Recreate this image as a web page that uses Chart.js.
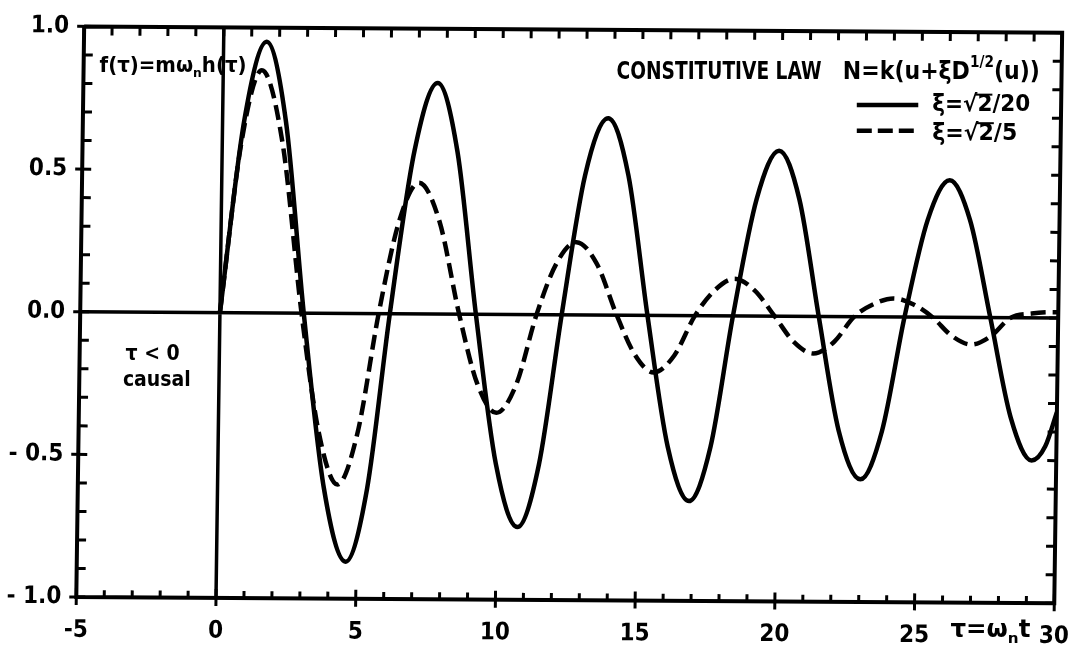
<!DOCTYPE html>
<html lang="en">
<head>
  <meta charset="UTF-8">
  <title>Impulse response - constitutive law</title>
  <style>
    body {
      margin: 0;
      padding: 0;
      background-color: #ffffff;
      overflow: hidden;
    }
    #chart {
      display: block;
    }
  </style>
</head>
<body>
  <canvas id="chart" width="1092" height="662"></canvas>

  <script src="https://cdn.jsdelivr.net/npm/chart.js"></script>
  <script>
    // values
    const tauSolid = [0, 0.77, 1.54, 2.27, 3.0, 3.81, 4.62, 5.35, 6.08, 6.88, 7.68, 8.42, 9.16,
      9.95, 10.75, 11.49, 12.23, 13.0, 13.8, 14.55, 15.3, 16.09, 16.88, 17.62, 18.36,
      19.15, 19.93, 20.68, 21.43, 22.2, 23.0, 23.75, 24.5, 25.28, 26.05, 26.8, 27.57,
      28.35, 29.12, 29.6, 30];
    const hSolid = [0, 0.67, 0.95, 0.67, 0, -0.615, -0.87, -0.615, 0, 0.57, 0.81, 0.57, 0,
      -0.525, -0.745, -0.525, 0, 0.49, 0.69, 0.49, 0, -0.46, -0.65, -0.46, 0,
      0.41, 0.58, 0.41, 0, -0.40, -0.57, -0.40, 0, 0.34, 0.48, 0.34, 0,
      -0.35, -0.50, -0.45, -0.33];

    const tauDashed = [0, 0.69, 1.38, 2.15, 2.92, 3.6, 4.29, 4.98, 5.68, 6.37, 7.06, 7.81, 8.56,
      9.25, 9.94, 10.64, 11.33, 12.02, 12.72, 13.46, 14.2, 14.88, 15.55, 16.28, 17.0,
      17.7, 18.4, 19.12, 19.85, 20.55, 21.25, 21.98, 22.7, 23.4, 24.1, 24.8, 25.5,
      26.2, 26.9, 27.6, 28.3, 29.05, 29.8, 30];
    const hDashed = [0, 0.6, 0.85, 0.6, 0, -0.42, -0.60, -0.42, 0, 0.325, 0.46, 0.325, 0,
      -0.245, -0.345, -0.245, 0, 0.18, 0.255, 0.18, 0, -0.14, -0.20, -0.14, 0,
      0.09, 0.13, 0.09, 0, -0.09, -0.13, -0.09, 0, 0.045, 0.065, 0.045, 0,
      -0.065, -0.095, -0.065, 0, 0.015, 0.02, 0.02];

    const xRange = [-5, 30];
    const yRange = [-1, 1];
    const yTickLabels = { '1': '1.0', '0.5': '0.5', '0': '0.0', '-0.5': '- 0.5', '-1': '- 1.0' };

    const FONT = "'DejaVu Sans Condensed', 'DejaVu Sans', sans-serif";

    function toPoints(xs, ys) {
      return xs.map((x, i) => ({ x: x, y: ys[i] }));
    }

    // draws a list of text runs (sub/superscript, overline) squeezed to a target width
    function drawRuns(ctx, runs, x, y, size, width) {
      ctx.save();
      let total = 0;
      runs.forEach(r => {
        ctx.font = 'bold ' + (r.sub || r.sup ? size * 0.62 : size) + 'px ' + FONT;
        r.w = ctx.measureText(r.t).width;
        total += r.w;
      });
      const sx = width ? width / total : 1;
      ctx.translate(x, y);
      ctx.scale(sx, 1);
      ctx.textBaseline = 'middle';
      ctx.fillStyle = '#000';
      ctx.strokeStyle = '#000';
      let cx = 0;
      runs.forEach(r => {
        const s = r.sub || r.sup ? size * 0.62 : size;
        const dy = r.sub ? size * 0.35 : (r.sup ? -size * 0.38 : 0);
        ctx.font = 'bold ' + s + 'px ' + FONT;
        ctx.fillText(r.t, cx, dy);
        if (r.over) {
          ctx.lineWidth = 2;
          ctx.beginPath();
          ctx.moveTo(cx - 2, dy - s * 0.45);
          ctx.lineTo(cx + r.w, dy - s * 0.45);
          ctx.stroke();
        }
        cx += r.w;
      });
      ctx.restore();
    }

    // the scanned figure is slightly skewed: apply the same shear to everything drawn
    const skewPlugin = {
      id: 'skew',
      beforeDraw(chart) {
        const ctx = chart.ctx;
        ctx.save();
        ctx.translate(546, 331);
        ctx.transform(1, 0.0064, -0.0138, 1, 0, 0);
        ctx.translate(-546, -331);
      },
      afterDraw(chart) {
        chart.ctx.restore();
      }
    };

    // frame, inward ticks, zero lines and annotations
    const framePlugin = {
      id: 'frame',
      beforeDatasetsDraw(chart) {
        const { ctx, chartArea: a, scales: { x, y } } = chart;
        ctx.save();
        ctx.strokeStyle = '#000';
        ctx.lineCap = 'butt';

        // zero lines
        ctx.lineWidth = 3.5;
        ctx.beginPath();
        ctx.moveTo(a.left, y.getPixelForValue(0));
        ctx.lineTo(a.right, y.getPixelForValue(0));
        ctx.moveTo(x.getPixelForValue(0), a.top);
        ctx.lineTo(x.getPixelForValue(0), a.bottom);
        ctx.stroke();

        // frame
        ctx.lineWidth = 4;
        ctx.beginPath();
        ctx.moveTo(a.left, a.top);
        ctx.lineTo(a.left, a.bottom);
        ctx.lineTo(a.right, a.bottom);
        ctx.lineTo(a.right, a.top);
        ctx.lineTo(a.left, a.top);
        ctx.stroke();

        // x ticks every unit
        ctx.lineWidth = 3;
        ctx.beginPath();
        for (let v = xRange[0]; v <= xRange[1]; v++) {
          const px = x.getPixelForValue(v);
          const major = v % 5 === 0;
          ctx.moveTo(px, a.bottom + (major ? 8 : 0));
          ctx.lineTo(px, a.bottom - (major ? 9 : 7));
          ctx.moveTo(px, a.top);
          ctx.lineTo(px, a.top + 9);
        }
        // y ticks every 0.1
        for (let k = -10; k <= 10; k++) {
          const py = y.getPixelForValue(k / 10);
          const major = k % 5 === 0;
          ctx.moveTo(a.left - (major ? 7 : 0), py);
          ctx.lineTo(a.left + 9, py);
          ctx.moveTo(a.right, py);
          ctx.lineTo(a.right - 9, py);
        }
        ctx.stroke();
        ctx.restore();
      },
      afterDraw(chart) {
        const { ctx, scales: { x, y } } = chart;
        const fx = v => x.getPixelForValue(v);
        const fy = v => y.getPixelForValue(v);

        drawRuns(ctx, [{ t: 'f(τ)=mω' }, { t: 'n', sub: true }, { t: 'h(τ)' }],
          fx(-4.3), fy(0.87), 21, 147);

        drawRuns(ctx, [{ t: 'CONSTITUTIVE LAW' }], fx(14.2), fy(0.85), 25, 205);
        drawRuns(ctx, [{ t: 'N=k(u+ξD' }, { t: '1/2', sup: true }, { t: '(u))' }],
          fx(22.3), fy(0.85), 25, 197);

        // legend samples
        ctx.save();
        ctx.strokeStyle = '#000';
        ctx.lineWidth = 4.5;
        ctx.beginPath();
        ctx.moveTo(fx(22.8), fy(0.735));
        ctx.lineTo(fx(25.0), fy(0.735));
        ctx.stroke();
        ctx.setLineDash([15, 6]);
        ctx.beginPath();
        ctx.moveTo(fx(22.8), fy(0.645));
        ctx.lineTo(fx(25.0), fy(0.645));
        ctx.stroke();
        ctx.restore();

        drawRuns(ctx, [{ t: 'ξ=√' }, { t: '2', over: true }, { t: '/20' }],
          fx(25.5), fy(0.735), 23, 98);
        drawRuns(ctx, [{ t: 'ξ=√' }, { t: '2', over: true }, { t: '/5' }],
          fx(25.5), fy(0.635), 23, 85);

        ctx.save();
        ctx.fillStyle = '#000';
        ctx.textAlign = 'center';
        ctx.textBaseline = 'middle';
        ctx.font = 'bold 21px ' + FONT;
        ctx.fillText('τ < 0', fx(-2.4), fy(-0.14));
        ctx.fillText('causal', fx(-2.25), fy(-0.232));
        ctx.restore();

        drawRuns(ctx, [{ t: 'τ=ω' }, { t: 'n', sub: true }, { t: 't' }],
          fx(26.15), 631, 24, 80);
      }
    };

    const ctx = document.getElementById('chart').getContext('2d');
    const chart = new Chart(ctx, {
      type: 'line',
      data: {
        datasets: [{
          label: 'ξ=√2/20',
          data: toPoints(tauSolid, hSolid),
          borderColor: '#000',
          borderWidth: 4.5,
          pointRadius: 0,
          cubicInterpolationMode: 'monotone',
          fill: false
        }, {
          label: 'ξ=√2/5',
          data: toPoints(tauDashed, hDashed),
          borderColor: '#000',
          borderWidth: 4.5,
          borderDash: [15, 7],
          pointRadius: 0,
          cubicInterpolationMode: 'monotone',
          fill: false
        }]
      },
      options: {
        responsive: false,
        animation: false,
        layout: { padding: { top: 23, right: 20, left: 0, bottom: 0 } },
        plugins: {
          legend: { display: false },
          tooltip: { enabled: false }
        },
        scales: {
          x: {
            type: 'linear',
            min: xRange[0],
            max: xRange[1],
            grid: { display: false, drawTicks: false },
            border: { display: false },
            ticks: {
              stepSize: 5,
              color: '#000',
              padding: 19,
              maxRotation: 0,
              font: { family: FONT, size: 24, weight: 'bold' }
            },
            afterFit(scale) { scale.height = 62; }
          },
          y: {
            min: yRange[0],
            max: yRange[1],
            grid: { display: false, drawTicks: false },
            border: { display: false },
            ticks: {
              stepSize: 0.5,
              color: '#000',
              padding: 15,
              font: { family: FONT, size: 24, weight: 'bold' },
              callback: v => yTickLabels[String(v)]
            },
            afterFit(scale) { scale.width = 80; }
          }
        }
      },
      plugins: [skewPlugin, framePlugin]
    });
  </script>
</body>
</html>
